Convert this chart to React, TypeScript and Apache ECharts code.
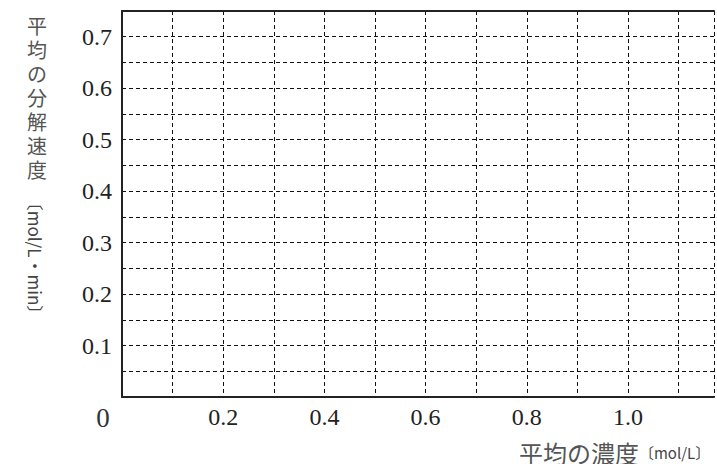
import React, { useEffect, useRef } from "react";
import * as echarts from "echarts";

// Axis ranges and tick labels
const xRange = [0, 1.17];
const yRange = [0, 0.75];
const xGridStep = 0.1;
const yGridStep = 0.05;
const xTickLabels = ["0.2", "0.4", "0.6", "0.8", "1.0"];
const yTickLabels = ["0.1", "0.2", "0.3", "0.4", "0.5", "0.6", "0.7"];
const originLabel = "0";
const yNameChars = ["平", "均", "の", "分", "解", "速", "度"];
const yNameUnit = "〔mol/L・min〕";
const xNameMain = "平均の濃度";
const xNameUnit = "〔mol/L〕";
const seriesData: number[][] = [];

const SERIF = "Liberation Serif";
const JP = "Noto Sans CJK JP";

export default function App() {
  const ref = useRef<HTMLDivElement>(null);
  useEffect(() => {
    if (!ref.current) return;
    const chart = echarts.init(ref.current, null, { renderer: "svg" });
    const dash = { type: [4, 3] as any, color: "#111", width: 1 };
    const yNameGraphics = yNameChars.map((ch, i) => ({
      type: "text",
      x: 37,
      y: 25 + i * 24,
      style: {
        text: ch,
        fontFamily: JP,
        fontSize: 20,
        lineHeight: 22,
        fill: "#555",
        align: "center",
        verticalAlign: "middle",
      },
    }));
    chart.setOption({
      animation: false,
      backgroundColor: "#fff",
      grid: { left: 122, right: 0, top: 11, bottom: 67, containLabel: false },
      xAxis: [
        {
          type: "value",
          min: xRange[0],
          max: xRange[1],
          interval: xGridStep,
          axisLine: { show: true, lineStyle: { color: "#222", width: 2 } },
          axisTick: { show: false },
          splitLine: { show: true, lineStyle: dash },
          axisLabel: {
            show: true,
            margin: 8,
            fontFamily: SERIF,
            fontSize: 24,
            color: "#222",
            formatter: (v: number) => {
              const s = v.toFixed(1);
              return xTickLabels.includes(s) && Math.abs(v - parseFloat(s)) < 1e-6 ? s : "";
            },
          },
        },
        {
          type: "value",
          position: "top",
          min: xRange[0],
          max: xRange[1],
          axisLine: { show: true, onZero: false, lineStyle: { color: "#222", width: 2 } },
          axisTick: { show: false },
          axisLabel: { show: false },
          splitLine: { show: false },
        },
      ],
      yAxis: {
        type: "value",
        min: yRange[0],
        max: yRange[1],
        interval: yGridStep,
        axisLine: { show: true, lineStyle: { color: "#222", width: 2 } },
        axisTick: { show: false },
        splitLine: { show: true, lineStyle: dash },
        axisLabel: {
          show: true,
          margin: 10,
          fontFamily: SERIF,
          fontSize: 24,
          color: "#222",
          formatter: (v: number) => {
            const s = v.toFixed(1);
            return yTickLabels.includes(s) && Math.abs(v - parseFloat(s)) < 1e-6 ? s : "";
          },
        },
      },
      series: [{ type: "scatter", data: seriesData, xAxisIndex: 0 }],
      graphic: [
        {
          type: "text",
          x: 103,
          y: 418,
          style: {
            text: originLabel,
            fontFamily: SERIF,
            fontSize: 27,
            fill: "#333",
            align: "center",
            verticalAlign: "middle",
          },
        },
        ...yNameGraphics,
        {
          type: "text",
          x: 35,
          y: 258,
          rotation: -Math.PI / 2,
          style: {
            text: yNameUnit,
            fontFamily: JP,
            fontSize: 17,
            fill: "#444",
            align: "center",
            verticalAlign: "middle",
          },
        },
        {
          type: "text",
          x: 519,
          y: 452,
          style: {
            text: `{a|${xNameMain}}{b|${xNameUnit}}`,
            align: "left",
            verticalAlign: "middle",
            rich: {
              a: { fontFamily: JP, fontSize: 24, fill: "#555", color: "#555" } as any,
              b: { fontFamily: JP, fontSize: 15, fill: "#444", color: "#444" } as any,
            },
          } as any,
        },
      ],
    });
    return () => chart.dispose();
  }, []);
  return (
    <div
      ref={ref}
      style={{ position: "fixed", left: 0, top: 0, width: 717, height: 464, background: "#fff" }}
    />
  );
}
